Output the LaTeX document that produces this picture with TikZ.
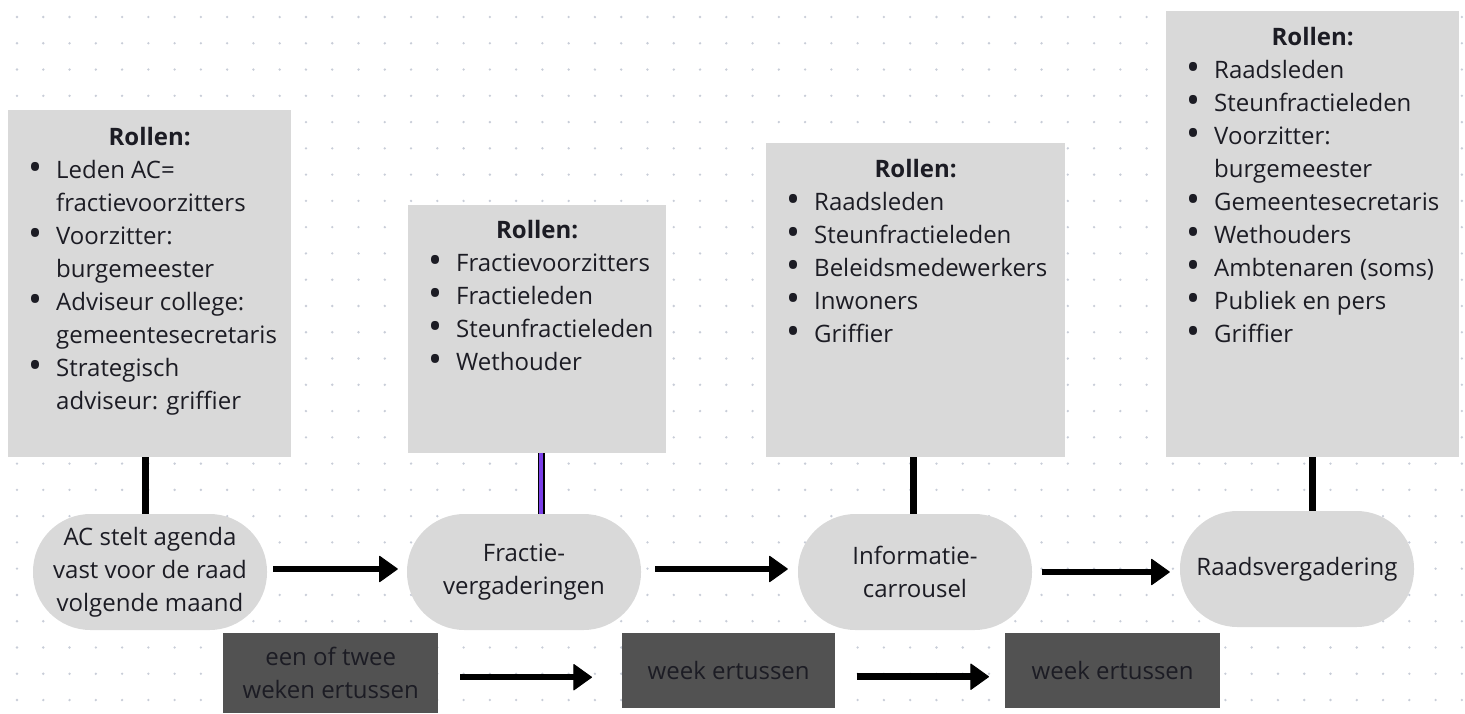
\documentclass[tikz,border=0pt]{standalone}
\usepackage{fontspec}
\setmainfont{Open Sans}
\usetikzlibrary{arrows.meta}
\definecolor{boxgray}{HTML}{D9D9D9}
\definecolor{darkbox}{HTML}{525252}
\definecolor{dotc}{HTML}{C8CDD8}
\definecolor{txt}{HTML}{1C1C24}
\definecolor{purp}{HTML}{7A3FE8}
\newcommand{\rbul}{\strut\makebox[28pt][l]{\smash{\raisebox{-2.6pt}{\scalebox{1.55}{\textbullet}}}}}
\newcommand{\rind}{\strut\hspace*{28pt}}
\begin{document}
\begin{tikzpicture}[x=1pt,y=-1pt,
  every node/.style={font=\fontsize{24}{33}\selectfont, text=txt},
  rolebox/.style={fill=boxgray, draw=none, inner sep=0pt, anchor=north west},
  rolehead/.style={anchor=base, inner sep=0pt, font=\fontsize{24}{33}\selectfont\bfseries},
  rolelist/.style={anchor=north west, inner sep=0pt, align=left},
  pill/.style={fill=boxgray, draw=none, rounded corners=57.5pt, minimum width=234pt, minimum height=116pt, align=center, inner sep=0pt},
  gapbox/.style={fill=darkbox, draw=none, anchor=north west, inner sep=0pt, align=center},
  link/.style={line width=6.5pt, draw=black},
  purplink/.style={line width=1.6pt, draw=black, double=purp, double distance=4pt},
  flow/.style={line width=6.5pt, -{Triangle[length=19pt,width=27pt,line width=1pt,round]}}
]
\useasboundingbox (0,0) rectangle (1465,713);
\fill[white] (0,0) rectangle (1465,713);
% dot grid
\foreach \i in {0,...,55}{
  \foreach \j in {0,...,26}{
    \fill[dotc] ({17+26.27*\i},{17+26.27*\j}) circle (1.3pt);
  }
}
% role boxes
\node[rolebox, minimum width=283pt, minimum height=347pt] (box1) at (8,110) {};
\node[rolebox, minimum width=258pt, minimum height=248pt] (box2) at (408,205) {};
\node[rolebox, minimum width=299pt, minimum height=314pt] (box3) at (766,143) {};
\node[rolebox, minimum width=293pt, minimum height=446pt] (box4) at (1166,11) {};

\node[rolehead] (h1) at ([yshift=-35pt]box1.north) {Rollen:};
\node[rolehead] (h2) at ([yshift=-33pt]box2.north) {Rollen:};
\node[rolehead] (h3) at ([yshift=-34pt]box3.north) {Rollen:};
\node[rolehead] (h4) at ([yshift=-34pt]box4.north) {Rollen:};

\node[rolelist] (l1) at ([xshift=20pt,yshift=-45pt]box1.north west)
  {\rbul Leden AC=\\\rind fractievoorzitters\\\rbul Voorzitter:\\\rind burgemeester\\\rbul Adviseur college:\\\rind gemeentesecretaris\\\rbul Strategisch\\\rind adviseur: griffier};
\node[rolelist] (l2) at ([xshift=20pt,yshift=-43pt]box2.north west)
  {\rbul Fractievoorzitters\\\rbul Fractieleden\\\rbul Steunfractieleden\\\rbul Wethouder};
\node[rolelist] (l3) at ([xshift=20pt,yshift=-44pt]box3.north west)
  {\rbul Raadsleden\\\rbul Steunfractieleden\\\rbul Beleidsmedewerkers\\\rbul Inwoners\\\rbul Griffier};
\node[rolelist] (l4) at ([xshift=20pt,yshift=-44pt]box4.north west)
  {\rbul Raadsleden\\\rbul Steunfractieleden\\\rbul Voorzitter:\\\rind burgemeester\\\rbul Gemeentesecretaris\\\rbul Wethouders\\\rbul Ambtenaren (soms)\\\rbul Publiek en pers\\\rbul Griffier};

% process pills
\node[pill] (p1) at (150,572) {AC stelt agenda\\vast voor de raad\\volgende maand};
\node[pill] (p2) at (524,572) {Fractie-\\vergaderingen};
\node[pill] (p3) at (915,572) {Informatie-\\carrousel};
\node[pill] (p4) at (1297,569) {Raadsvergadering};

% gap boxes
\node[gapbox, minimum width=215pt, minimum height=80pt] (g1) at (223,633) {een of twee\\weken ertussen};
\node[gapbox, minimum width=213pt, minimum height=75pt] (g2) at (622,633) {week ertussen};
\node[gapbox, minimum width=215pt, minimum height=75pt] (g3) at (1005,633) {week ertussen};

% vertical links
\draw[link] ([xshift=-4pt]box1.south) -- ([xshift=-4pt]box1.south |- p1.north);
\draw[purplink] ([xshift=4pt]box2.south) -- ([xshift=4pt]box2.south |- p2.north);
\draw[link] ([xshift=-2pt]box3.south) -- ([xshift=-2pt]box3.south |- p3.north);
\draw[link] (box4.south) -- (box4.south |- p4.north);

% flow arrows
\draw[flow, shorten <=6pt, shorten >=9pt] ([yshift=3pt]p1.east) -- ([yshift=3pt]p1.east -| p2.west);
\draw[flow, shorten <=14pt, shorten >=10pt] ([yshift=3pt]p2.east) -- ([yshift=3pt]p2.east -| p3.west);
\draw[flow, shorten <=10pt, shorten >=10pt] (p3.east) -- (p3.east -| p4.west);
\draw[flow, shorten <=22pt, shorten >=30pt] ([yshift=-4pt]g1.east) -- ([yshift=-4pt]g1.east -| g2.west);
\draw[flow, shorten <=22pt, shorten >=16pt] ([yshift=-6pt]g2.east) -- ([yshift=-6pt]g2.east -| g3.west);
\end{tikzpicture}
\end{document}
